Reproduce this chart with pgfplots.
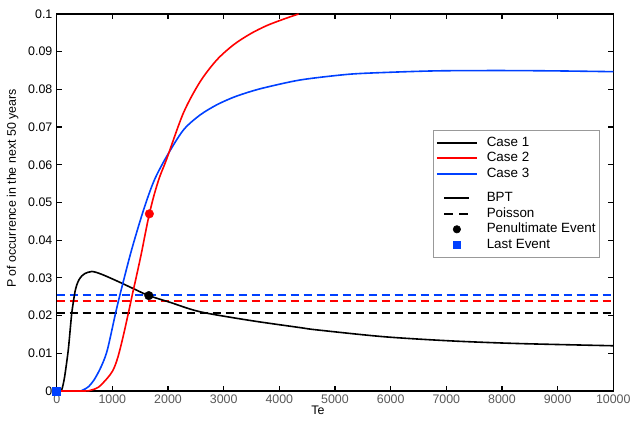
\documentclass[border=0pt]{standalone}
\usepackage{fontspec}
\setmainfont{Liberation Sans}
\usepackage{pgfplots}
\pgfplotsset{compat=1.18}
\definecolor{cblue}{rgb}{0,0.25,1}
\begin{document}
\fontsize{12.4}{14.5}\selectfont
\begin{tikzpicture}
\begin{axis}[
  scale only axis, width=556.6pt, height=377pt,
  xmin=0, xmax=10000, ymin=0, ymax=0.1,
  clip=false,
  axis line style={line width=1.3pt},
  tick style={line width=1.2pt, black},
  major tick length=5pt,
  tick align=inside,
  xtick={0,1000,...,10000},
  ytick={0,0.01,...,0.1},
  scaled x ticks=false, scaled y ticks=false,
  /pgf/number format/assume math mode=true,
  xticklabel style={/pgf/number format/1000 sep={}, text=black!65},
  yticklabels={0,0.01,0.02,0.03,0.04,0.05,0.06,0.07,0.08,0.09,0.1},
  xlabel={Te}, ylabel={P of occurrence in the next 50 years},
  xlabel style={at={(axis description cs:0.4695,-0.0504)}, anchor=center},
  ylabel style={at={(axis description cs:-0.079,0.537)}, anchor=center},
  legend cell align=left,
  legend style={at={(rel axis cs:0.6755,0.6923)}, anchor=north west,
    font=\fontsize{13.4}{15.7}\selectfont, draw=black!40, line width=0.6pt,
    inner xsep=3pt, inner ysep=5pt, row sep=0pt, column sep=8pt,
    nodes={inner xsep=1pt, inner ysep=1.3pt, text height=9.8pt, text depth=3pt}},
  legend image code/.code={\draw[#1] (0pt,0pt) -- (40pt,0pt);},
]
% dashed Poisson lines
\addplot[forget plot, draw=black, line width=1.8pt, dash pattern=on 8pt off 5pt] coordinates {(0,0.0207) (10000,0.0207)};
\addplot[forget plot, draw=red, line width=1.8pt, dash pattern=on 8pt off 5pt] coordinates {(0,0.0238) (10000,0.0238)};
\addplot[forget plot, draw=cblue, line width=1.8pt, dash pattern=on 8pt off 5pt] coordinates {(0,0.0254) (10000,0.0254)};
% Case 1 BPT
\addplot[forget plot, draw=black, line width=1.6pt, smooth, tension=0.5] coordinates {
(0,0) (60,0) (90,0.0003) (120,0.002) (150,0.0045) (208,0.0109) (250,0.0175)
(270,0.0206) (300,0.0237) (330,0.0264) (360,0.0281) (400,0.0295) (450,0.0305)
(500,0.0311) (630,0.0317) (800,0.0310) (1080,0.0292) (1400,0.0270) (1655,0.0253)
(2040,0.0235) (2580,0.0210) (3480,0.0187) (4380,0.0168) (4680,0.0162)
(5875,0.0144) (7070,0.0133) (8270,0.0126) (10000,0.0120)};
% Case 3 BPT
\addplot[forget plot, draw=cblue, line width=1.6pt, smooth, tension=0.5] coordinates {
(0,0) (400,0) (460,0.0002) (560,0.0010) (670,0.0029) (800,0.0065) (910,0.0109)
(1060,0.0208) (1155,0.0266) (1345,0.0374) (1560,0.0480) (1750,0.0558)
(1975,0.0622) (2275,0.0692) (2575,0.0732) (2875,0.0759) (3175,0.0779)
(3475,0.0794) (3775,0.0806) (4375,0.0825) (5095,0.0838) (5575,0.0843)
(6775,0.0849) (7970,0.0850) (9000,0.0849) (10000,0.0847)};
% Case 2 BPT
\addplot[forget plot, draw=red, line width=1.6pt, smooth, tension=0.5] coordinates {
(0,0) (500,0) (610,0.0002) (750,0.0010) (910,0.0034) (1000,0.0052) (1050,0.0068)
(1100,0.0090) (1150,0.0118) (1210,0.0155) (1300,0.0215) (1365,0.0260)
(1420,0.0296) (1520,0.0364) (1600,0.0424) (1665,0.0470) (1750,0.0520)
(1850,0.0568) (1975,0.0615) (2275,0.0737) (2575,0.0820)
(2875,0.0878) (3175,0.0918) (3475,0.0947) (3770,0.0969) (4070,0.0986)
(4345,0.1000)};
% events
\addplot[forget plot, only marks, mark=*, mark size=4.3pt, black] coordinates {(1655,0.0253)};
\addplot[forget plot, only marks, mark=*, mark size=4.3pt, red] coordinates {(1665,0.0470)};
\addplot[forget plot, only marks, mark=square*, mark size=4pt, cblue] coordinates {(0,0)};
% legend
\addlegendimage{draw=black, line width=1.8pt}
\addlegendentry{Case 1}
\addlegendimage{draw=red, line width=1.8pt}
\addlegendentry{Case 2}
\addlegendimage{draw=cblue, line width=1.8pt}
\addlegendentry{Case 3}
\addlegendimage{legend image code/.code={}}
\addlegendentry[text height=9.3pt, text depth=0pt, inner ysep=0pt]{}
\addlegendimage{legend image code/.code={\draw[black, line width=1.8pt] (7.5pt,0.5pt) -- (32.5pt,0.5pt);}}
\addlegendentry{BPT}
\addlegendimage{legend image code/.code={\draw[black, line width=1.8pt, dash pattern=on 9pt off 6pt] (7.5pt,0pt) -- (32.5pt,0pt);}}
\addlegendentry{Poisson}
\addlegendimage{legend image code/.code={\fill[black] (20pt,0pt) circle (3.7pt);}}
\addlegendentry{Penultimate Event}
\addlegendimage{legend image code/.code={\fill[cblue] (16.3pt,-3.7pt) rectangle (23.7pt,3.7pt);}}
\addlegendentry{Last Event}
\coordinate (bl) at (rel axis cs:0,0);
\coordinate (tr) at (rel axis cs:1,1);
\end{axis}
\pgfresetboundingbox
\path[use as bounding box] ([shift={(-56.7pt,-34pt)}]bl) rectangle ([shift={(16.7pt,14pt)}]tr);
\end{tikzpicture}
\end{document}
